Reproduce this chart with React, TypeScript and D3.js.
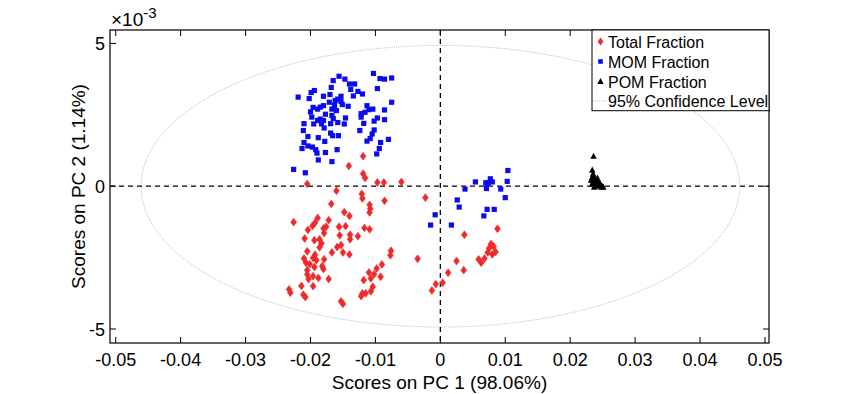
import * as React from 'react';
import * as d3 from 'd3';

// scores are stored in units of 1e-3: [PC1, PC2]
const totalFraction: [number, number][] = [
  [-11.9, 1.05], [-14.1, 0.71], [-11.9, 0.44], [-11.6, 0.29], [-9.7, 0.13], [-8.7, 0.13], [-6.0, 0.15],
  [-20.5, 0.08], [-16.0, -0.16], [-12.1, -0.27], [-12.0, -0.43], [-8.6, -0.51], [-16.8, -0.62],
  [-10.9, -0.65], [-10.8, -0.79], [-10.9, -0.92], [-14.8, -0.91], [-14.0, -1.04], [-18.9, -1.11],
  [-17.2, -1.19], [-22.6, -1.26], [-19.3, -1.28], [-19.7, -1.39], [-15.6, -1.42], [-14.6, -1.40],
  [-18.0, -1.48], [-11.7, -1.46], [-10.9, -1.51], [-17.6, -1.42], [-20.4, -1.53], [-17.9, -1.64],
  [-15.5, -1.72], [-13.9, -1.70], [-12.7, -1.75], [-20.9, -1.83], [-19.4, -1.89], [-18.6, -1.86],
  [-13.9, -1.86], [-15.3, -2.06], [-15.9, -2.13], [-18.3, -2.00], [-18.6, -2.14], [-20.5, -2.28],
  [-16.7, -2.32], [-15.0, -2.32], [-14.0, -2.39], [-7.6, -2.26], [-7.7, -2.42], [-3.5, -2.54],
  [-19.3, -2.40], [-19.6, -2.51], [-21.0, -2.53], [-19.1, -2.59], [-17.9, -2.56], [-20.7, -2.68],
  [-20.1, -2.73], [-18.2, -2.80], [-19.4, -2.83], [-18.0, -2.90], [-9.0, -2.74], [-20.5, -2.94],
  [-9.8, -2.88], [-11.0, -3.02], [-10.2, -3.08], [-9.2, -3.17], [-20.5, -3.09], [-19.6, -3.15],
  [-18.8, -3.21], [-20.3, -3.25], [-17.2, -3.25], [-10.7, -3.23], [-11.8, -3.29], [-23.3, -3.61],
  [-23.1, -3.73], [-21.4, -3.49], [-19.6, -3.50], [-10.4, -3.52], [-12.0, -3.75], [-12.2, -3.85],
  [-11.5, -3.75], [-10.7, -3.68], [-21.1, -3.80], [-20.8, -3.88], [-15.3, -4.03], [-15.0, -4.12],
  [-2.3, -0.40], [8.8, -1.49], [3.7, -1.70], [7.8, -2.02], [8.2, -2.11], [7.5, -2.18], [8.5, -2.30],
  [7.3, -2.32], [8.0, -2.39], [6.8, -2.53], [5.9, -2.56], [6.3, -2.68], [2.5, -2.62], [3.6, -2.94],
  [1.2, -3.03], [0.35, -3.38], [-0.7, -3.43], [-1.3, -3.65],
];

const momFraction: [number, number][] = [
  [-10.3, 3.95], [-9.3, 3.77], [-8.6, 3.75], [-7.5, 3.79], [-15.6, 3.85], [-16.5, 3.70], [-14.7, 3.75],
  [-14.0, 3.58], [-13.2, 3.58], [-16.8, 3.46], [-9.7, 3.42], [-12.7, 3.32], [-12.0, 3.23], [-13.8, 3.39],
  [-19.4, 3.35], [-19.9, 3.28], [-17.0, 3.21], [-15.3, 3.15], [-13.4, 3.16], [-21.9, 3.12], [-20.2, 3.07],
  [-18.0, 3.15], [-15.8, 3.05], [-16.2, 3.00], [-15.3, 2.97], [-17.1, 2.94], [-7.5, 2.94], [-18.0, 2.82],
  [-19.6, 2.76], [-16.3, 2.83], [-15.1, 2.86], [-14.2, 2.80], [-11.3, 2.82], [-10.4, 2.70], [-18.9, 2.70],
  [-18.5, 2.77], [-20.0, 2.60], [-16.7, 2.70], [-16.0, 2.65], [-11.0, 2.68], [-8.6, 2.67], [-11.6, 2.59],
  [-12.2, 2.54], [-17.7, 2.52], [-16.7, 2.48], [-19.8, 2.42], [-12.2, 2.42], [-9.7, 2.39], [-14.6, 2.39],
  [-18.5, 2.35], [-18.9, 2.30], [-18.0, 2.30], [-16.5, 2.37], [-10.2, 2.28], [-8.6, 2.33], [-21.0, 2.19],
  [-19.5, 2.18], [-18.3, 2.18], [-16.9, 2.19], [-15.8, 2.23], [-14.8, 2.18], [-11.8, 2.20], [-17.9, 2.04],
  [-21.1, 1.95], [-12.4, 1.95], [-10.2, 1.97], [-16.9, 1.86], [-15.7, 1.77], [-16.6, 1.77], [-10.5, 1.83],
  [-20.4, 1.74], [-18.8, 1.70], [-10.8, 1.67], [-11.3, 1.58], [-8.0, 1.64], [-17.8, 1.57], [-9.2, 1.53],
  [-21.0, 1.53], [-20.4, 1.41], [-19.7, 1.37], [-21.3, 1.32], [-19.2, 1.28], [-15.9, 1.28], [-9.4, 1.32],
  [-19.0, 1.16], [-17.7, 1.18], [-9.8, 1.13], [-18.8, 0.92], [-16.7, 0.86], [-22.6, 0.59], [-20.8, 0.47],
  [10.4, 0.55], [10.3, 0.17], [7.7, 0.26], [8.0, 0.15], [7.2, 0.09], [7.1, -0.08], [5.4, 0.15],
  [3.8, -0.10], [9.3, -0.10], [10.0, -0.40], [2.6, -0.48], [2.9, -0.73], [7.2, -0.81], [8.3, -0.81],
  [6.7, -1.04], [-0.8, -1.00], [-1.5, -1.36], [1.7, -1.36], [7.4, 0.13], [7.0, 0.12],
];

const pomFraction: [number, number][] = [
  [23.6, 1.05], [23.4, 0.56], [23.5, 0.42], [23.4, 0.31], [23.7, 0.35], [23.2, 0.21], [23.8, 0.24],
  [24.2, 0.28], [23.5, 0.14], [24.0, 0.17], [24.3, 0.14], [24.6, 0.10], [23.4, 0.07], [23.8, 0.03],
  [24.5, 0.03], [24.9, 0.0], [24.2, 0.0], [24.8, -0.03], [23.7, -0.03], [25.1, -0.03],
];

// 95% confidence ellipse semi-axes (1e-3)
const confidence = { rx: 46.1, ry: 4.93 };

const xTicks = [-50, -40, -30, -20, -10, 0, 10, 20, 30, 40, 50];
const yTicks = [-5, 0, 5];
const legendItems = ['Total Fraction', 'MOM Fraction', 'POM Fraction', '95% Confidence Level'];

const W = 850;
const H = 394;
const m = { left: 110, right: 769, top: 30, bottom: 343 };
const font = 'Liberation Sans, Arial, sans-serif';
const RED = '#f02a2a';
const BLUE = '#0b0bef';

const x = d3.scaleLinear().domain([-50.88, 50.62]).range([m.left, m.right]);
const y = d3.scaleLinear().domain([-5.49, 5.47]).range([m.bottom, m.top]);

const diamond = (cx: number, cy: number) =>
  `M${cx},${cy - 3.9}L${cx + 2.9},${cy}L${cx},${cy + 3.9}L${cx - 2.9},${cy}Z`;
const triangle = (cx: number, cy: number) =>
  `M${cx},${cy - 3.6}L${cx + 3.2},${cy + 2.6}L${cx - 3.2},${cy + 2.6}Z`;

export default function App() {
  const fmt = (v: number) => (v === 0 ? '0' : String(+(v / 1000).toFixed(2)));
  const lx = 600.5;
  const ly = [41.5, 61.5, 81.5, 101];
  return (
    <svg width={W} height={H} style={{ position: 'absolute', left: 0, top: 0, background: '#fff' }}
      fontFamily={font}>
      <rect x={0} y={0} width={W} height={H} fill="#fff" />
      <ellipse cx={x(0)} cy={y(0)} rx={x(confidence.rx) - x(0)} ry={y(0) - y(confidence.ry)}
        fill="none" stroke="#9cc4e6" strokeWidth={1} strokeDasharray="1,1" />
      <line x1={m.left} x2={m.right} y1={y(0)} y2={y(0)} stroke="#000" strokeWidth={1.3} strokeDasharray="5,4" />
      <line x1={x(0)} x2={x(0)} y1={m.top} y2={m.bottom} stroke="#000" strokeWidth={1.3} strokeDasharray="5,4" />
      {totalFraction.map((d, i) => (
        <path key={'t' + i} d={diamond(x(d[0]), y(d[1]))} fill={RED} stroke={RED} strokeWidth={0.6} />
      ))}
      {momFraction.map((d, i) => (
        <rect key={'m' + i} x={x(d[0]) - 2.6} y={y(d[1]) - 2.6} width={5.2} height={5.2} fill={BLUE} />
      ))}
      {pomFraction.map((d, i) => (
        <path key={'p' + i} d={triangle(x(d[0]), y(d[1]))} fill="#000" />
      ))}
      {/* axes box */}
      <rect x={m.left} y={m.top} width={m.right - m.left} height={m.bottom - m.top}
        fill="none" stroke="#000" strokeWidth={1.2} />
      {xTicks.map((t) => (
        <g key={'x' + t}>
          <line x1={x(t)} x2={x(t)} y1={m.bottom} y2={m.bottom - 6} stroke="#000" />
          <line x1={x(t)} x2={x(t)} y1={m.top} y2={m.top + 6} stroke="#000" />
          <text x={x(t)} y={366} textAnchor="middle" fontSize={18}>{fmt(t)}</text>
        </g>
      ))}
      {yTicks.map((t) => (
        <g key={'y' + t}>
          <line x1={m.left} x2={m.left + 6} y1={y(t)} y2={y(t)} stroke="#000" />
          <line x1={m.right} x2={m.right - 6} y1={y(t)} y2={y(t)} stroke="#000" />
          <text x={105} y={y(t) + 6.5} textAnchor="end" fontSize={18}>{t}</text>
        </g>
      ))}
      <text x={111} y={26} fontSize={19}>
        ×10<tspan dy={-8} fontSize={15}>-3</tspan>
      </text>
      <text x={(m.left + m.right) / 2} y={389} textAnchor="middle" fontSize={19}>Scores on PC 1 (98.06%)</text>
      <text transform={`translate(85,${(m.top + m.bottom) / 2}) rotate(-90)`} textAnchor="middle" fontSize={19}>
        Scores on PC 2 (1.14%)
      </text>
      {/* legend */}
      <rect x={592} y={m.top} width={m.right - 592} height={110.7 - m.top} fill="#fff" stroke="#000" strokeWidth={1} />
      <path d={diamond(lx, ly[0])} fill={RED} />
      <rect x={lx - 2.3} y={ly[1] - 2.3} width={4.6} height={4.6} fill={BLUE} />
      <path d={triangle(lx, ly[2])} fill="#000" />
      <line x1={593} x2={606} y1={ly[3]} y2={ly[3]} stroke="#9cc4e6" strokeDasharray="1,1" />
      {legendItems.map((s, i) => (
        <text key={s} x={608} y={ly[i] + 6} fontSize={16}>{s}</text>
      ))}
    </svg>
  );
}
